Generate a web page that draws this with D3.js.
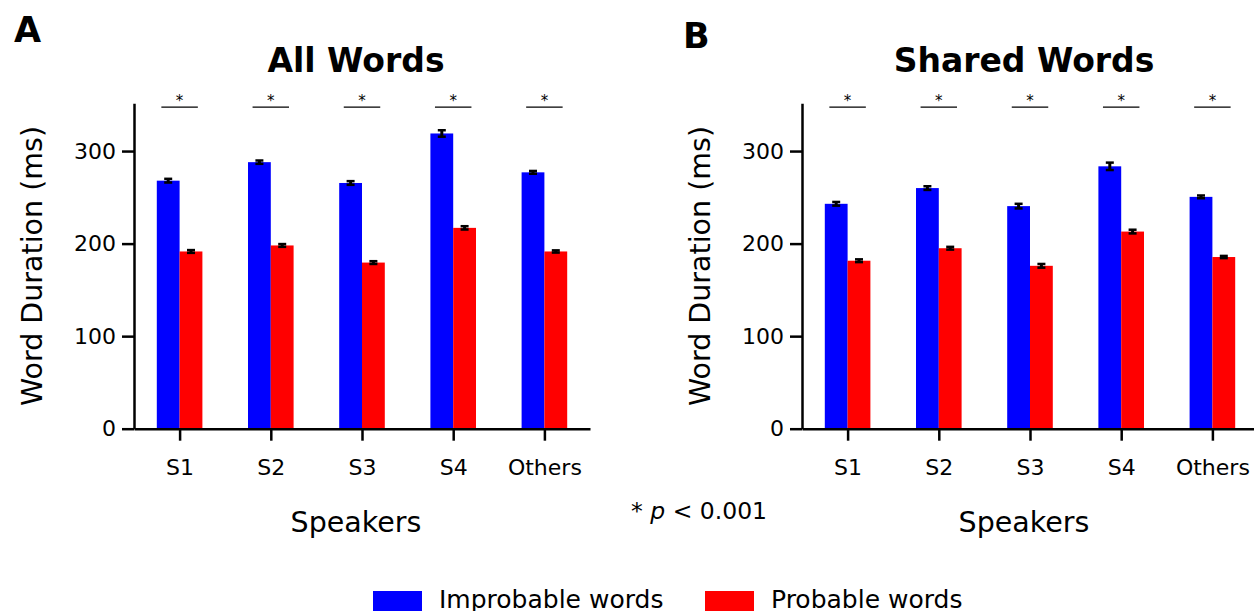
<!DOCTYPE html>
<html>
<head>
<meta charset="utf-8">
<script src="https://cdn.jsdelivr.net/npm/d3@7"></script>
<style>
  html, body { margin: 0; padding: 0; background: #fff; }
  svg { display: block; font-family: "DejaVu Sans", Verdana, sans-serif; }
</style>
</head>
<body>
<svg id="chart" width="1254" height="611"></svg>
<script>
// Speakers on the x axis
const speakers = ["S1", "S2", "S3", "S4", "Others"];
const seriesNames = ["Improbable words", "Probable words"];
const seriesColors = ["#0000ff", "#ff0000"];
const yTicks = [0, 100, 200, 300];

// Mean word duration (ms) and standard error, all words
const allImprobable = [268, 288, 265.5, 319, 277];
const allImprobableErr = [2, 1.8, 2, 3.5, 1.5];
const allProbable = [191.5, 198, 179.5, 217, 191.5];
const allProbableErr = [1.5, 1.5, 1.5, 1.8, 1.2];

// Mean word duration (ms) and standard error, shared words
const sharedImprobable = [243, 260, 240.5, 283.5, 250.5];
const sharedImprobableErr = [2, 2, 2.5, 4, 1.5];
const sharedProbable = [181.5, 195, 176, 213, 185.5];
const sharedProbableErr = [1.5, 1.5, 2, 2, 1.2];

const panels = [
  { letter: "A", title: "All Words", left: 134, series: [allImprobable, allProbable], errs: [allImprobableErr, allProbableErr], letterX: 14, letterY: 42 },
  { letter: "B", title: "Shared Words", left: 802, series: [sharedImprobable, sharedProbable], errs: [sharedImprobableErr, sharedProbableErr], letterX: 683, letterY: 48 }
];

const svg = d3.select("#chart");
const plotW = 456, yZero = 428.7, yTop = 103.3;
const yMax = 351.6;
const barW = 0.25;

panels.forEach(p => {
  const g = svg.append("g");
  const x = d3.scaleLinear().domain([-0.5, speakers.length - 0.5]).range([p.left, p.left + plotW]);
  const y = d3.scaleLinear().domain([0, yMax]).range([yZero, yTop]);

  // bars
  p.series.forEach((vals, si) => {
    g.selectAll(null).data(vals).enter().append("rect")
      .attr("x", (d, i) => x(i + (si === 0 ? -barW : 0)))
      .attr("width", x(barW) - x(0))
      .attr("y", d => y(d))
      .attr("height", d => y(0) - y(d))
      .attr("fill", seriesColors[si]);
  });

  // error bars
  p.series.forEach((vals, si) => {
    const off = si === 0 ? -barW / 2 : barW / 2;
    vals.forEach((v, i) => {
      const e = p.errs[si][i];
      const cx = x(i + off);
      g.append("line").attr("x1", cx).attr("x2", cx).attr("y1", y(v - e)).attr("y2", y(v + e))
        .attr("stroke", "#000").attr("stroke-width", 3);
      [v - e, v + e].forEach(c => {
        g.append("line").attr("x1", cx - 4).attr("x2", cx + 4).attr("y1", y(c)).attr("y2", y(c))
          .attr("stroke", "#000").attr("stroke-width", 2.5);
      });
    });
  });

  // significance markers
  speakers.forEach((s, i) => {
    g.append("line").attr("x1", x(i - 0.2)).attr("x2", x(i + 0.2)).attr("y1", y(347.4)).attr("y2", y(347.4))
      .attr("stroke", "#000").attr("stroke-width", 1.2);
    g.append("text").attr("x", x(i)).attr("y", y(347.4) - 1).attr("text-anchor", "middle")
      .attr("font-size", 15).text("*");
  });

  // y axis
  const yAxis = d3.axisLeft(y).tickValues(yTicks).tickSize(12).tickPadding(6).tickSizeOuter(0);
  const ya = g.append("g").attr("transform", `translate(${p.left},0)`).call(yAxis);
  ya.select(".domain").attr("stroke-width", 2.5);
  ya.selectAll(".tick line").attr("stroke-width", 2.5);
  ya.selectAll(".tick text").attr("font-size", 22).attr("fill", "#000").attr("font-family", "DejaVu Sans");

  // x axis
  const xAxis = d3.axisBottom(x).tickValues(d3.range(speakers.length)).tickFormat(i => speakers[i])
    .tickSize(12).tickPadding(19).tickSizeOuter(0);
  const xa = g.append("g").attr("transform", `translate(0,${yZero})`).call(xAxis);
  xa.select(".domain").attr("stroke-width", 2.5);
  xa.selectAll(".tick line").attr("stroke-width", 2.5);
  xa.selectAll(".tick text").attr("font-size", 22).attr("fill", "#000").attr("font-family", "DejaVu Sans");

  // axis labels
  g.append("text").attr("transform", `translate(${p.left - 92},${266}) rotate(-90)`)
    .attr("text-anchor", "middle").attr("font-size", 28.5).text("Word Duration (ms)");
  g.append("text").attr("x", p.left + plotW / 2 - 6).attr("y", 532)
    .attr("text-anchor", "middle").attr("font-size", 28.5).text("Speakers");

  // title and panel letter
  g.append("text").attr("x", p.left + plotW / 2 - 6).attr("y", 72)
    .attr("text-anchor", "middle").attr("font-size", 33).attr("font-weight", "bold").text(p.title);
  g.append("text").attr("x", p.letterX).attr("y", p.letterY)
    .attr("font-size", 35).attr("font-weight", "bold").text(p.letter);
});

// significance note
const note = svg.append("text").attr("x", 631).attr("y", 519).attr("font-size", 23.5);
note.append("tspan").text("* ");
note.append("tspan").attr("font-style", "italic").text("p");
note.append("tspan").text(" < 0.001");

// legend
const legendX = [373, 705];
seriesNames.forEach((name, i) => {
  svg.append("rect").attr("x", legendX[i]).attr("y", 591).attr("width", 49).attr("height", 24)
    .attr("fill", seriesColors[i]);
  svg.append("text").attr("x", legendX[i] + 66).attr("y", 608).attr("font-size", 25).text(name);
});
</script>
</body>
</html>
